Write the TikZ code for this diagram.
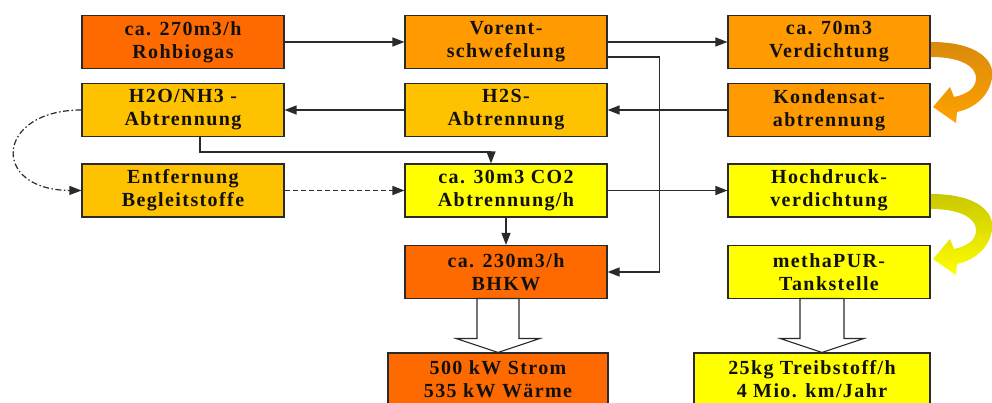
\documentclass[tikz,border=0pt]{standalone}
\usepackage{fontspec}
\newfontfamily\boxfont[LetterSpace=7]{Liberation Serif}
\usetikzlibrary{arrows.meta}
\definecolor{cRed}{HTML}{FF6A00}
\definecolor{cOrange}{HTML}{FF9A00}
\definecolor{cGold}{HTML}{FFC200}
\definecolor{cYellow}{HTML}{FFFF00}
\definecolor{cLine}{HTML}{2A2A2A}
\definecolor{cText}{HTML}{111111}
\definecolor{cOrTop}{HTML}{D98B0B}
\definecolor{cOrBot}{HTML}{FFA100}
\definecolor{cYeTop}{HTML}{C8C800}
\definecolor{cYeBot}{HTML}{FFFF00}
\tikzset{
  procbox/.style={draw=cLine, line width=1.1pt, minimum width=202pt, minimum height=53pt,
    inner sep=0pt, align=center, text=cText,
    font=\boxfont\bfseries\fontsize{20}{23}\selectfont},
  outbox/.style={procbox, minimum width=#1},
  arr/.style={draw=cLine, line width=1.2pt, -{Triangle[length=12pt,width=9pt]}},
  blockarr/.style={draw=cLine, line width=1.1pt, fill=white, line join=miter},
}
\begin{document}
\begin{tikzpicture}[x=1pt,y=-1pt]
\useasboundingbox (0,0) rectangle (992,403);
\begin{scope}
\clip (0,0) rectangle (992,403);
% nodes
\node[procbox, fill=cRed]    (roh)   at (183,42)    {ca. 270m3/h\\Rohbiogas};
\node[procbox, fill=cOrange] (vor)   at (506,42)    {Vorent-\\schwefelung};
\node[procbox, fill=cOrange] (verd)  at (829,42)    {ca. 70m3\\Verdichtung};
\node[procbox, fill=cGold]   (h2o)   at (183,110)   {H2O/NH3 -\\Abtrennung};
\node[procbox, fill=cGold]   (h2s)   at (506,110)   {H2S-\\Abtrennung};
\node[procbox, fill=cOrange] (kond)  at (829,110)   {Kondensat-\\abtrennung};
\node[procbox, fill=cGold]   (entf)  at (183,190.5) {Entfernung\\Begleitstoffe};
\node[procbox, fill=cYellow] (co2)   at (506,190.5) {ca. 30m3 CO2\\Abtrennung/h};
\node[procbox, fill=cYellow] (hoch)  at (829,190.5) {Hochdruck-\\verdichtung};
\node[procbox, fill=cRed]    (bhkw)  at (506,272)   {ca. 230m3/h\\BHKW};
\node[procbox, fill=cYellow] (metha) at (829,272)   {methaPUR-\\Tankstelle};
\node[outbox=220pt, fill=cRed]    (out1) at (498,379.5) {500 kW Strom\\535 kW Wärme};
\node[outbox=236pt, fill=cYellow] (out2) at (812,379.5) {25kg Treibstoff/h\\4 Mio. km/Jahr};
% connectors
\draw[arr] (roh.east) -- (vor.west);
\draw[arr] (vor.east) -- (verd.west);
\draw[arr] ([yshift=-15pt]vor.east) -- ++(52,0) |- (bhkw.east);
\draw[arr] (kond.west) -- (h2s.east);
\draw[arr] (h2s.west) -- (h2o.east);
\draw[arr] ([xshift=17pt]h2o.south) -- ++(0,15) -| ([xshift=-15pt]co2.north);
\draw[arr] (co2.south) -- (bhkw.north);
\draw[arr] (co2.east) -- (hoch.west);
\draw[arr, dashed, dash pattern=on 5pt off 3pt] (entf.east) -- (co2.west);
\draw[arr, dash pattern=on 6pt off 2.5pt on 1.5pt off 2.5pt]
  (h2o.west) .. controls (-5,110) and (-10,190) .. (entf.west);
% block arrows
\draw[blockarr] (out1.north) -- ++(-42,-14) -- ++(21,0) -- ++(0,-40) -- ++(42,0) -- ++(0,40) -- ++(21,0) -- cycle;
\draw[blockarr] ([xshift=10pt]out2.north) -- ++(-42,-14) -- ++(20,0) -- ++(0,-40) -- ++(44,0) -- ++(0,40) -- ++(20,0) -- cycle;
% curved thick arrows
\shade[top color=cOrTop, bottom color=cOrBot]
  (931,42) .. controls (977,42) and (995,60) .. (992,78) .. controls (989,96) and (975,108) .. (957,112)
  -- (956,123) -- (933,107) -- (950,87) -- (954,97)
  .. controls (968,94) and (976,88) .. (976,78) .. controls (976,66) and (960,57) .. (931,57) -- cycle;
\begin{scope}[yshift=-152pt]
\shade[top color=cYeTop, bottom color=cYeBot]
  (931,42) .. controls (977,42) and (995,60) .. (992,78) .. controls (989,96) and (975,108) .. (957,112)
  -- (956,123) -- (933,107) -- (950,87) -- (954,97)
  .. controls (968,94) and (976,88) .. (976,78) .. controls (976,66) and (960,57) .. (931,57) -- cycle;
\end{scope}
\end{scope}
\end{tikzpicture}
\end{document}
